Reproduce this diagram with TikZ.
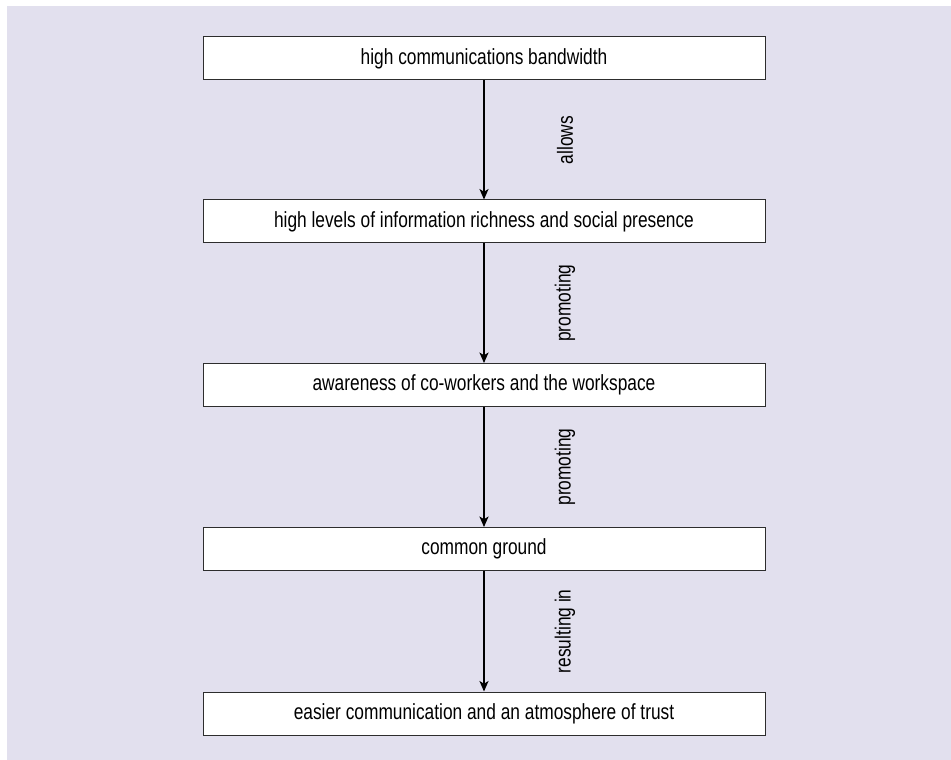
\documentclass[tikz,border=0pt]{standalone}
\usepackage{fontspec}
\setmainfont{Liberation Sans}[FakeStretch=0.79]
\usetikzlibrary{arrows.meta}
\definecolor{bgviolet}{RGB}{226,224,238}
\definecolor{boxline}{RGB}{45,45,45}
\tikzset{
  stage/.style={draw=boxline, fill=white, line width=0.7pt, minimum width=14.05cm, minimum height=1.075cm, inner sep=0pt, font=\fontsize{15.6pt}{18pt}\selectfont},
  link/.style={-{Stealth[length=7.5pt,width=6.5pt,inset=2pt]}, line width=0.9pt},
  verb/.style={midway, xshift=2.025cm, rotate=90, font=\fontsize{15.6pt}{18pt}\selectfont}
}
\begin{document}
\begin{tikzpicture}
\useasboundingbox (0,0) rectangle (23.775,19);
\fill [bgviolet] (0.175,0) rectangle (23.775,18.85);
\node (bandwidth) [stage] at (12.1,17.5375) {high communications bandwidth};
\node (richness) [stage] at (12.1,13.4625) {high levels of information richness and social presence};
\node (awareness) [stage] at (12.1,9.375) {awareness of co-workers and the workspace};
\node (ground) [stage] at (12.1,5.275) {common ground};
\node (trust) [stage] at (12.1,1.1625) {easier communication and an atmosphere of trust};
\draw [link] (bandwidth) -- node[verb]{allows} (richness);
\draw [link] (richness) -- node[verb]{promoting} (awareness);
\draw [link] (awareness) -- node[verb]{promoting} (ground);
\draw [link] (ground) -- node[verb]{resulting in} (trust);
\end{tikzpicture}
\end{document}
